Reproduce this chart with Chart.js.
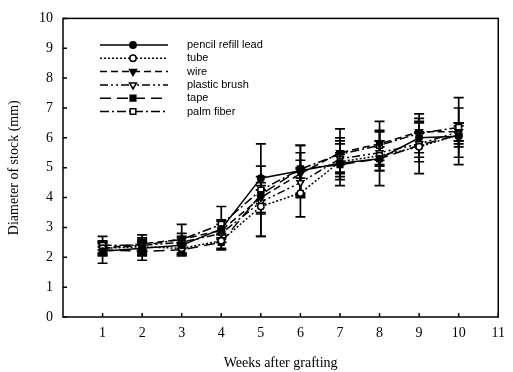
<!DOCTYPE html>
<html>
<head>
<meta charset="utf-8">
<script src="https://cdn.jsdelivr.net/npm/chart.js@4"></script>
<style>
  html, body { margin: 0; padding: 0; background: #fff; }
  #wrap { width: 513px; height: 372px; }
</style>
</head>
<body>
<div id="wrap"><canvas id="stockChart" width="513" height="372"></canvas></div>
<script>
const weeks = [1, 2, 3, 4, 5, 6, 7, 8, 9, 10];
const xTicks = [1, 2, 3, 4, 5, 6, 7, 8, 9, 10, 11];
const yTicks = [0, 1, 2, 3, 4, 5, 6, 7, 8, 9, 10];
const seriesNames = ['pencil refill lead', 'tube', 'wire', 'plastic brush', 'tape', 'palm fiber'];

// mean diameter (mm)
const pencilLead   = [2.20, 2.30, 2.40, 2.95, 4.65, 4.90, 5.15, 5.30, 6.00, 6.05];
const tube         = [2.30, 2.35, 2.30, 2.55, 3.70, 4.15, 5.20, 5.40, 5.70, 6.10];
const wire         = [2.30, 2.45, 2.60, 2.90, 4.00, 4.80, 5.50, 5.80, 6.20, 6.20];
const plasticBrush = [2.30, 2.40, 2.50, 2.80, 3.85, 4.50, 5.30, 5.50, 5.80, 6.20];
const tape         = [2.25, 2.20, 2.25, 2.50, 4.10, 4.95, 5.10, 5.30, 5.75, 6.10];
const palmFiber    = [2.40, 2.40, 2.60, 3.10, 4.25, 4.95, 5.45, 5.75, 6.15, 6.35];

// error bars (+/-)
const pencilLeadErr   = [0.15, 0.20, 0.25, 0.30, 0.40, 0.85, 0.30, 0.40, 0.50, 0.95];
const tubeErr         = [0.15, 0.20, 0.20, 0.25, 1.00, 0.80, 0.80, 0.50, 0.50, 0.40];
const wireErr         = [0.20, 0.20, 0.20, 0.30, 0.50, 0.70, 0.40, 0.75, 0.45, 0.30];
const plasticBrushErr = [0.20, 0.20, 0.20, 0.30, 0.40, 0.50, 0.50, 0.40, 1.00, 0.30];
const tapeErr         = [0.45, 0.30, 0.20, 0.25, 0.30, 0.30, 0.40, 0.90, 0.40, 0.30];
const palmFiberErr    = [0.15, 0.35, 0.50, 0.60, 1.55, 0.80, 0.85, 0.50, 0.40, 1.00];

const means = [pencilLead, tube, wire, plasticBrush, tape, palmFiber];
const errs = [pencilLeadErr, tubeErr, wireErr, plasticBrushErr, tapeErr, palmFiberErr];

const styles = [
  { dash: [], point: 'circle', rot: 0, fill: '#000', r: 3.2 },
  { dash: [2, 2], point: 'circle', rot: 0, fill: '#fff', r: 3.2 },
  { dash: [7, 4], point: 'triangle', rot: 180, fill: '#000', r: 4 },
  { dash: [8, 3, 2, 3, 2, 3], point: 'triangle', rot: 180, fill: '#fff', r: 4 },
  { dash: [11, 6], point: 'rect', rot: 0, fill: '#000', r: 4 },
  { dash: [9, 3, 2, 3], point: 'rect', rot: 0, fill: '#fff', r: 4 }
];

const datasets = seriesNames.map((name, i) => ({
  label: name,
  data: weeks.map((w, j) => ({ x: w, y: means[i][j] })),
  errors: errs[i],
  borderColor: '#000',
  borderWidth: 1.5,
  borderDash: styles[i].dash,
  pointStyle: styles[i].point,
  pointRotation: styles[i].rot,
  pointRadius: styles[i].r,
  pointBackgroundColor: styles[i].fill,
  pointBorderColor: '#000',
  pointBorderWidth: 1.5,
  tension: 0,
  fill: false
}));

// error bars drawn under the markers
const errorBars = {
  id: 'errorBars',
  beforeDatasetsDraw(chart) {
    const ctx = chart.ctx;
    const xs = chart.scales.x, ys = chart.scales.y;
    ctx.save();
    ctx.strokeStyle = '#000';
    ctx.lineWidth = 1.7;
    ctx.setLineDash([]);
    chart.data.datasets.forEach(ds => {
      ds.data.forEach((p, j) => {
        const x = xs.getPixelForValue(p.x);
        const top = ys.getPixelForValue(p.y + ds.errors[j]);
        const bot = ys.getPixelForValue(p.y - ds.errors[j]);
        ctx.beginPath();
        ctx.moveTo(x, top); ctx.lineTo(x, bot);
        ctx.moveTo(x - 5, top); ctx.lineTo(x + 5, top);
        ctx.moveTo(x - 5, bot); ctx.lineTo(x + 5, bot);
        ctx.stroke();
      });
    });
    ctx.restore();
  }
};

// frame, inward ticks and the legend
const frame = {
  id: 'frame',
  afterDraw(chart) {
    const ctx = chart.ctx;
    const a = chart.chartArea;
    const xs = chart.scales.x, ys = chart.scales.y;
    ctx.save();
    ctx.strokeStyle = '#000';
    ctx.lineWidth = 1.5;
    ctx.setLineDash([]);
    ctx.strokeRect(a.left, a.top, a.right - a.left, a.bottom - a.top);
    ctx.beginPath();
    xTicks.forEach(t => {
      const x = xs.getPixelForValue(t);
      ctx.moveTo(x, a.bottom); ctx.lineTo(x, a.bottom - 4);
    });
    yTicks.forEach(t => {
      const y = ys.getPixelForValue(t);
      ctx.moveTo(a.left, y); ctx.lineTo(a.left + 4, y);
    });
    ctx.stroke();

    // legend
    ctx.font = '11px "Liberation Sans", Arial, sans-serif';
    ctx.textBaseline = 'middle';
    chart.data.datasets.forEach((ds, i) => {
      const y = 45 + i * 13.3;
      ctx.strokeStyle = '#000';
      ctx.lineWidth = 1.5;
      ctx.setLineDash(ds.borderDash);
      ctx.beginPath();
      ctx.moveTo(100, y); ctx.lineTo(168, y);
      ctx.stroke();
      ctx.setLineDash([]);
      ctx.fillStyle = ds.pointBackgroundColor;
      Chart.helpers.drawPoint(ctx, {
        pointStyle: ds.pointStyle, rotation: ds.pointRotation,
        radius: ds.pointRadius, borderWidth: 1.5
      }, 133, y);
      ctx.fillStyle = '#000';
      ctx.fillText(ds.label, 187, y);
    });
    ctx.restore();
  }
};

Chart.defaults.font.family = '"Liberation Serif", "Times New Roman", serif';
Chart.defaults.color = '#000';

new Chart(document.getElementById('stockChart'), {
  type: 'line',
  data: { datasets },
  options: {
    responsive: false,
    animation: false,
    layout: { padding: { top: 15, right: 10, left: 0, bottom: 0 } },
    plugins: { legend: { display: false }, tooltip: { enabled: false } },
    scales: {
      x: {
        type: 'linear', min: 0, max: 11,
        grid: { display: false, drawTicks: false },
        border: { display: false },
        afterBuildTicks: s => { s.ticks = xTicks.map(v => ({ value: v })); },
        ticks: { font: { size: 14 }, padding: 8, maxRotation: 0 },
        title: { display: true, text: 'Weeks after grafting', font: { size: 14 }, padding: { top: 10, bottom: 0 } },
        afterFit: s => { s.height = 55; }
      },
      y: {
        min: 0, max: 10,
        grid: { display: false, drawTicks: false },
        border: { display: false },
        afterBuildTicks: s => { s.ticks = yTicks.map(v => ({ value: v })); },
        ticks: { font: { size: 14 }, padding: 10 },
        title: { display: true, text: 'Diameter of stock (mm)', font: { size: 14 }, padding: { top: 6, bottom: 0 } },
        afterFit: s => { s.width = 63; }
      }
    }
  },
  plugins: [errorBars, frame]
});
</script>
</body>
</html>
